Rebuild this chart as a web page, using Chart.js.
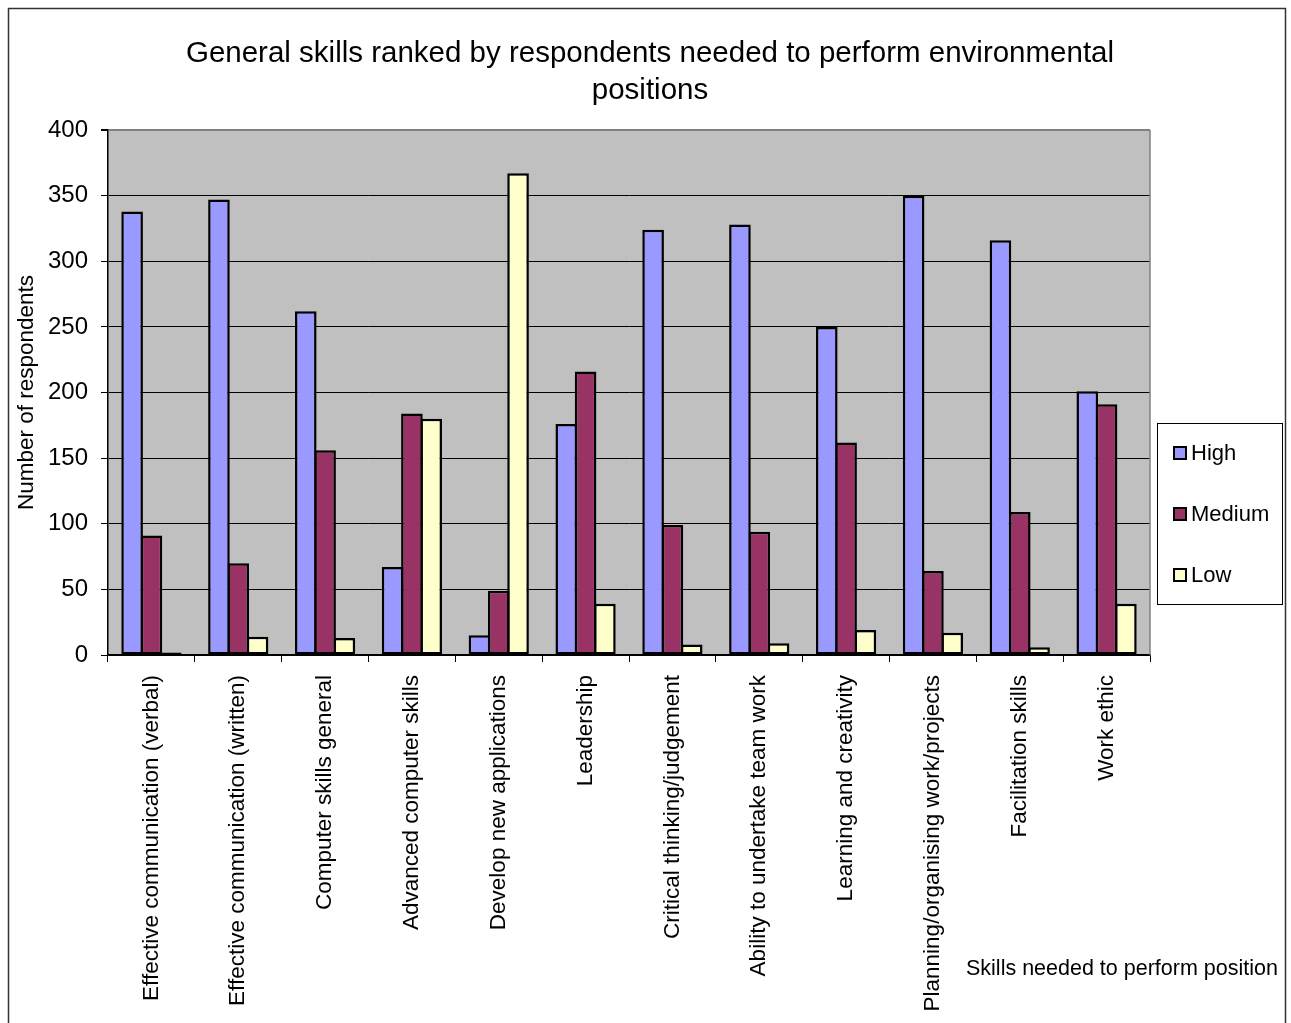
<!DOCTYPE html>
<html><head><meta charset="utf-8">
<script src="https://cdn.jsdelivr.net/npm/chart.js@4/dist/chart.umd.min.js"></script>
<style>html,body{margin:0;padding:0;background:#fff;overflow:hidden}</style>
</head><body>
<canvas id="c" width="1291" height="1023"></canvas>
<script>
const categories = [
  "Effective communication (verbal)",
  "Effective communication (written)",
  "Computer skills general",
  "Advanced computer skills",
  "Develop new applications",
  "Leadership",
  "Critical thinking/judgement",
  "Ability to undertake team work",
  "Learning and creativity",
  "Planning/organising work/projects",
  "Facilitation skills",
  "Work ethic"
];
const seriesNames = ["High", "Medium", "Low"];
const highValues   = [338, 347, 262, 67, 15, 176, 324, 328, 250, 350, 316, 201];
const mediumValues = [91, 70, 156, 184, 49, 216, 99, 94, 162, 64, 109, 191];
const lowValues    = [2, 14, 13, 180, 367, 39, 8, 9, 19, 17, 6, 39];
const yTickValues  = [0, 50, 100, 150, 200, 250, 300, 350, 400];
const titleLines = ["General skills ranked by respondents needed to perform environmental", "positions"];
const yAxisTitle = "Number of respondents";
const xAxisTitle = "Skills needed to perform position";

const FONT = "'Liberation Sans', Arial, Helvetica, sans-serif";
const colors = ["#9999FF", "#993366", "#FFFFCC"];

const decor = {
  id: 'decor',
  beforeDraw(chart) {
    const {ctx, chartArea: a} = chart;
    ctx.save();
    ctx.fillStyle = '#fff';
    ctx.fillRect(0, 0, chart.width, chart.height);
    ctx.fillStyle = '#C0C0C0';
    ctx.fillRect(a.left, a.top, a.right - a.left, a.bottom - a.top);
    ctx.restore();
  },
  afterDraw(chart) {
    const {ctx, chartArea: a} = chart;
    ctx.save();
    ctx.strokeStyle = '#808080';
    ctx.lineWidth = 1.5;
    ctx.beginPath();
    ctx.moveTo(a.right, a.top);
    ctx.lineTo(a.right, a.bottom);
    ctx.stroke();
    ctx.strokeStyle = '#333';
    ctx.lineWidth = 1.5;
    ctx.strokeRect(8.5, 8.5, 1277, 1030);
    ctx.strokeStyle = '#000';
    ctx.lineWidth = 1;
    ctx.strokeRect(1157.5, 423.5, 125, 181);
    ctx.font = "22px " + FONT;
    ctx.textBaseline = 'middle';
    ctx.textAlign = 'left';
    chart.data.datasets.forEach((ds, i) => {
      const cy = 453 + i * 61;
      ctx.fillStyle = ds.backgroundColor;
      ctx.fillRect(1174, cy - 6, 12, 12);
      ctx.strokeStyle = '#000';
      ctx.lineWidth = 2;
      ctx.strokeRect(1174, cy - 6, 12, 12);
      ctx.fillStyle = '#000';
      ctx.fillText(ds.label, 1191, cy + 1);
    });
    ctx.font = "21.5px " + FONT;
    ctx.fillStyle = '#000';
    ctx.fillText(xAxisTitle, 966, 969);
    ctx.restore();
  }
};

const values = [highValues, mediumValues, lowValues];
new Chart(document.getElementById('c'), {
  type: 'bar',
  data: {
    labels: categories,
    datasets: seriesNames.map((n, i) => ({
      label: n,
      data: values[i],
      backgroundColor: colors[i],
      borderColor: '#000',
      borderWidth: 2.5,
      borderSkipped: false,
      categoryPercentage: 0.667,
      barPercentage: 1.12
    }))
  },
  options: {
    responsive: false,
    animation: false,
    devicePixelRatio: 1,
    layout: {padding: {left: 9, right: 0, top: 0, bottom: 0}},
    plugins: {
      legend: {display: false},
      tooltip: {enabled: false},
      title: {
        display: true,
        text: titleLines,
        color: '#000',
        font: {family: FONT, size: 29.5, weight: 'normal', lineHeight: 37/29.5},
        padding: {top: 35.5, bottom: 20.5}
      }
    },
    scales: {
      x: {
        afterFit(s) { s.height = 368; },
        grid: {display: true, drawOnChartArea: false, drawTicks: true, tickLength: 7, color: '#000', lineWidth: 1, offset: true},
        border: {display: true, color: '#000', width: 1.5},
        ticks: {
          autoSkip: false, minRotation: 90, maxRotation: 90, padding: 13,
          color: '#000', font: {family: FONT, size: 22.5}
        }
      },
      y: {
        min: 0, max: 400,
        afterFit(s) { s.width = 99; },
        afterBuildTicks(s) { s.ticks = yTickValues.map(v => ({value: v})); },
        grid: {
          color: (c) => c.tick && c.tick.value === 400 ? '#808080' : '#000',
          lineWidth: (c) => c.tick && c.tick.value === 400 ? 2 : 1,
          tickColor: '#000',
          drawTicks: true, tickLength: 7
        },
        border: {display: true, color: '#000', width: 1.5},
        ticks: {padding: 13, color: '#000', font: {family: FONT, size: 24}},
        title: {
          display: true, text: yAxisTitle, color: '#000',
          font: {family: FONT, size: 22.5}, padding: {top: 4.5, bottom: 0}
        }
      },
      legendSpace: {
        type: 'linear',
        position: 'right',
        display: true,
        afterFit(s) { s.width = 141; },
        grid: {display: false, drawOnChartArea: false, drawTicks: false},
        border: {display: false},
        ticks: {display: false}
      }
    }
  },
  plugins: [decor]
});
</script>
</body></html>
